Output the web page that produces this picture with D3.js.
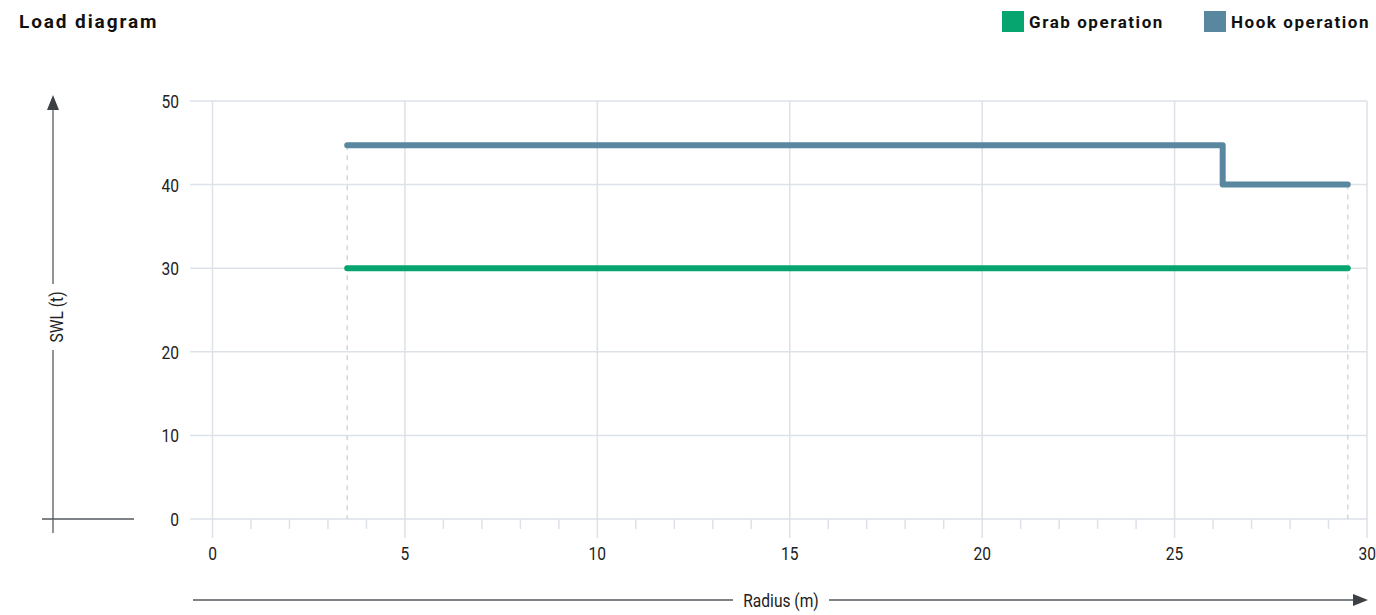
<!DOCTYPE html>
<html>
<head>
<meta charset="utf-8">
<script src="https://cdnjs.cloudflare.com/ajax/libs/d3/7.8.5/d3.min.js"></script>
<style>
  body { margin: 0; background: #fff; }
  text { font-family: Roboto, "Noto Sans", sans-serif; }
</style>
</head>
<body>
<svg id="chart" width="1376" height="615"></svg>
<script>
// data
var seriesNames = ["Grab operation", "Hook operation"];
var seriesColors = ["#06a56f", "#58879f"];
var grabRadius = [3.5, 29.5];
var grabSwl = [30, 30];
var hookRadius = [3.5, 26.25, 26.25, 29.5];
var hookSwl = [44.7, 44.7, 40, 40];
var xTicks = [0, 5, 10, 15, 20, 25, 30];
var yTicks = [0, 10, 20, 30, 40, 50];

var svg = d3.select("#chart");
var gridcolor = "#dde1e8";
var squeeze = 0.82; // fake a condensed face

var x = d3.scaleLinear().domain([0, 30]).range([212.5, 1367]);
var y = d3.scaleLinear().domain([0, 50]).range([519, 101]);

// narrow text helper
function narrow(g, tx, ty, txt, anchor, rot) {
  return g.append("text")
    .attr("transform", "translate(" + tx + "," + ty + ")" + (rot ? " rotate(" + rot + ")" : "") + " scale(" + squeeze + ",1)")
    .attr("text-anchor", anchor)
    .attr("font-size", "19px").attr("fill", "#222")
    .text(txt);
}

// title
svg.append("text")
  .attr("x", 19).attr("y", 28)
  .attr("font-size", "19px").attr("font-weight", "bold")
  .attr("letter-spacing", "1.9px")
  .attr("fill", "#111")
  .text("Load diagram");

// legend
var legx = [1002, 1204];
for (var i = 0; i < seriesNames.length; i++) {
  svg.append("rect")
    .attr("x", legx[i]).attr("y", 11)
    .attr("width", 22).attr("height", 21)
    .attr("fill", seriesColors[i]);
  svg.append("text")
    .attr("x", legx[i] + 27).attr("y", 28)
    .attr("font-size", "17px").attr("font-weight", "bold")
    .attr("letter-spacing", "1.55px")
    .attr("fill", "#111")
    .text(seriesNames[i]);
}

// horizontal grid + y labels
svg.append("g").selectAll("line")
  .data(yTicks).enter().append("line")
  .attr("x1", 190).attr("x2", 1367)
  .attr("y1", function(d) { return y(d); })
  .attr("y2", function(d) { return y(d); })
  .attr("stroke", gridcolor).attr("stroke-width", 1.5);

var ylab = svg.append("g");
yTicks.forEach(function(d) { narrow(ylab, 179, y(d) + 7, d, "end"); });

// vertical grid + x labels
svg.append("g").selectAll("line")
  .data(xTicks).enter().append("line")
  .attr("x1", function(d) { return x(d); })
  .attr("x2", function(d) { return x(d); })
  .attr("y1", 101).attr("y2", 538)
  .attr("stroke", gridcolor).attr("stroke-width", 1.5);

// minor ticks every 1 m
var minor = d3.range(0, 31).filter(function(d) { return d % 5 != 0; });
svg.append("g").selectAll("line")
  .data(minor).enter().append("line")
  .attr("x1", function(d) { return x(d); })
  .attr("x2", function(d) { return x(d); })
  .attr("y1", 519).attr("y2", 529)
  .attr("stroke", gridcolor).attr("stroke-width", 1.5);

var xlab = svg.append("g");
xTicks.forEach(function(d) {
  // last label would run off the page, keep it inside
  var xx = Math.min(x(d), 1367);
  narrow(xlab, xx, 560, d, d === 30 ? "end" : "middle")
    .attr("transform", "translate(" + (d === 30 ? 1376 : xx) + ",560) scale(" + squeeze + ",1)");
});

// dashed drop lines at the ends
var ends = [grabRadius[0], grabRadius[grabRadius.length - 1]];
var endtops = [hookSwl[0], hookSwl[hookSwl.length - 1]];
for (var j = 0; j < ends.length; j++) {
  svg.append("line")
    .attr("x1", x(ends[j])).attr("x2", x(ends[j]))
    .attr("y1", y(endtops[j])).attr("y2", y(0))
    .attr("stroke", "#d3d7de").attr("stroke-width", 1.5)
    .attr("stroke-dasharray", "5,5");
}

// series lines
var line = d3.line()
  .x(function(d) { return x(d[0]); })
  .y(function(d) { return y(d[1]); });

svg.append("path")
  .datum(d3.zip(grabRadius, grabSwl))
  .attr("d", line)
  .attr("fill", "none")
  .attr("stroke", seriesColors[0])
  .attr("stroke-width", 6)
  .attr("stroke-linecap", "round")
  .attr("stroke-linejoin", "round");

svg.append("path")
  .datum(d3.zip(hookRadius, hookSwl))
  .attr("d", line)
  .attr("fill", "none")
  .attr("stroke", seriesColors[1])
  .attr("stroke-width", 6)
  .attr("stroke-linecap", "round")
  .attr("stroke-linejoin", "round");

// left axis arrow
var axcolor = "#555a60";
svg.append("line").attr("x1", 53).attr("x2", 53).attr("y1", 108).attr("y2", 284)
  .attr("stroke", axcolor).attr("stroke-width", 1.3);
svg.append("line").attr("x1", 53).attr("x2", 53).attr("y1", 350).attr("y2", 533)
  .attr("stroke", axcolor).attr("stroke-width", 1.3);
svg.append("line").attr("x1", 42).attr("x2", 134).attr("y1", 519).attr("y2", 519)
  .attr("stroke", axcolor).attr("stroke-width", 1.3);
svg.append("path").attr("d", "M53,95 L47,110 L59,110 Z").attr("fill", "#3d4146");
narrow(svg, 63, 317, "SWL (t)", "middle", -90);

// bottom axis arrow
svg.append("line").attr("x1", 193).attr("x2", 733).attr("y1", 600).attr("y2", 600)
  .attr("stroke", axcolor).attr("stroke-width", 1.3);
svg.append("line").attr("x1", 829).attr("x2", 1356).attr("y1", 600).attr("y2", 600)
  .attr("stroke", axcolor).attr("stroke-width", 1.3);
svg.append("path").attr("d", "M1368,600 L1353,594 L1353,606 Z").attr("fill", "#3d4146");
narrow(svg, 781, 607, "Radius (m)", "middle");
</script>
</body>
</html>
